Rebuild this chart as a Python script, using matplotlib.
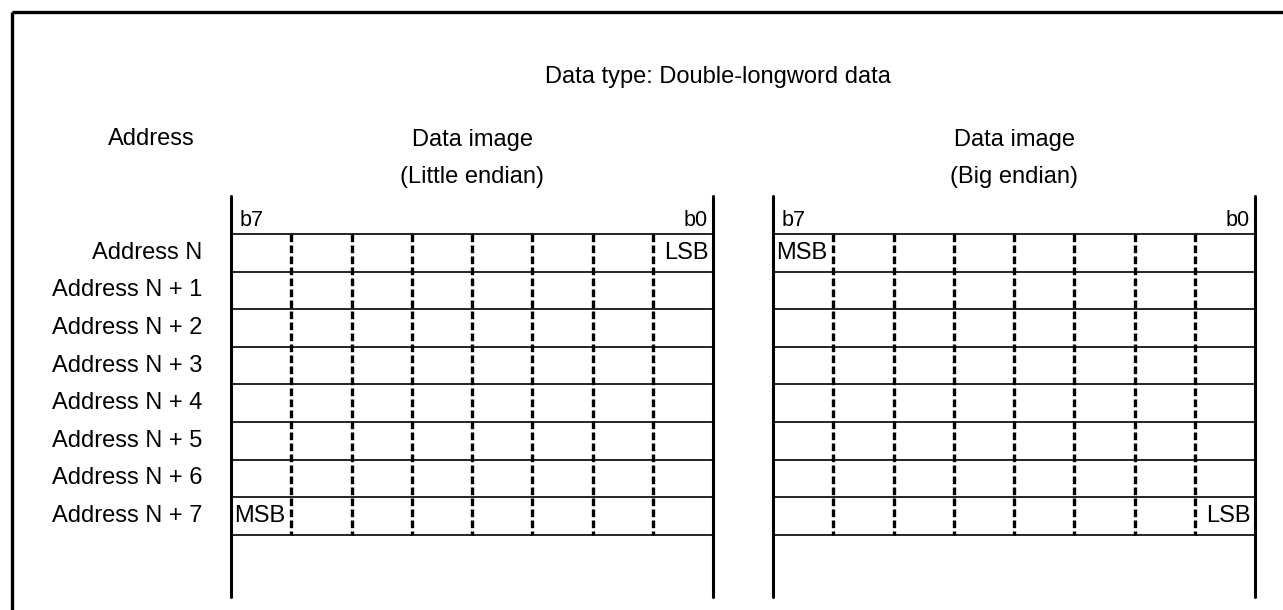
import matplotlib.pyplot as plt

plt.rcParams["font.family"] = ["Liberation Sans", "DejaVu Sans"]

# chart content
title = "Data type: Double-longword data"
address_header = "Address"
row_labels = ["Address N", "Address N + 1", "Address N + 2", "Address N + 3",
              "Address N + 4", "Address N + 5", "Address N + 6", "Address N + 7"]
panel_titles = ["Data image\n(Little endian)", "Data image\n(Big endian)"]
bit_labels = ["b7", "b0"]
n_bits = 8
# (row, column) of MSB / LSB marks for each panel
msb_cells = [(7, 0), (0, 0)]
lsb_cells = [(0, 7), (7, 7)]

# layout in pixels
W, H = 1283, 610
panel_left = [231, 773]
cell_w = 60.25
row_top = 234
row_h = 37.6
fs = 17

fig = plt.figure(figsize=(W / 100, H / 100), dpi=100)
ax = fig.add_axes([0, 0, 1, 1])
ax.set_xlim(0, W)
ax.set_ylim(H, 0)
ax.axis("off")

# outer frame (top and left)
ax.plot([12, W], [12, 12], color="black", lw=2.4, solid_capstyle="butt")
ax.plot([12, 12], [12, H], color="black", lw=2.4, solid_capstyle="butt")

ax.text(718, 77, title, ha="center", va="center", fontsize=fs)
ax.text(151, 139, address_header, ha="center", va="center", fontsize=fs)

n_rows = len(row_labels)
row_bottom = row_top + n_rows * row_h

for i, lab in enumerate(row_labels):
    ax.text(202, row_top + (i + 0.5) * row_h, lab, ha="right", va="center", fontsize=fs)

for p, x0 in enumerate(panel_left):
    x1 = x0 + n_bits * cell_w
    xc = (x0 + x1) / 2
    ax.text(xc, 158.5, panel_titles[p], ha="center", va="center", fontsize=fs,
            linespacing=1.85)
    # side walls
    for xv in (x0, x1):
        ax.plot([xv, xv], [196, 597], color="black", lw=2.2, solid_capstyle="round")
    # horizontal row lines
    for r in range(n_rows + 1):
        y = row_top + r * row_h
        ax.plot([x0, x1], [y, y], color="black", lw=1.2)
    # dashed bit separators
    for c in range(1, n_bits):
        xv = x0 + c * cell_w
        ax.plot([xv, xv], [row_top, row_bottom], color="black", lw=2.4,
                linestyle=(0, (2.3, 1.0)), dash_capstyle="butt")
    ax.text(x0 + 9, 220, bit_labels[0], ha="left", va="center", fontsize=fs - 1.4)
    ax.text(x1 - 5, 220, bit_labels[1], ha="right", va="center", fontsize=fs - 1.4)
    r, c = msb_cells[p]
    ax.text(x0 + c * cell_w + 3, row_top + (r + 0.5) * row_h, "MSB",
            ha="left", va="center", fontsize=fs)
    r, c = lsb_cells[p]
    ax.text(x0 + (c + 1) * cell_w - 4, row_top + (r + 0.5) * row_h, "LSB",
            ha="right", va="center", fontsize=fs)

fig.savefig("out.png", dpi=100)
